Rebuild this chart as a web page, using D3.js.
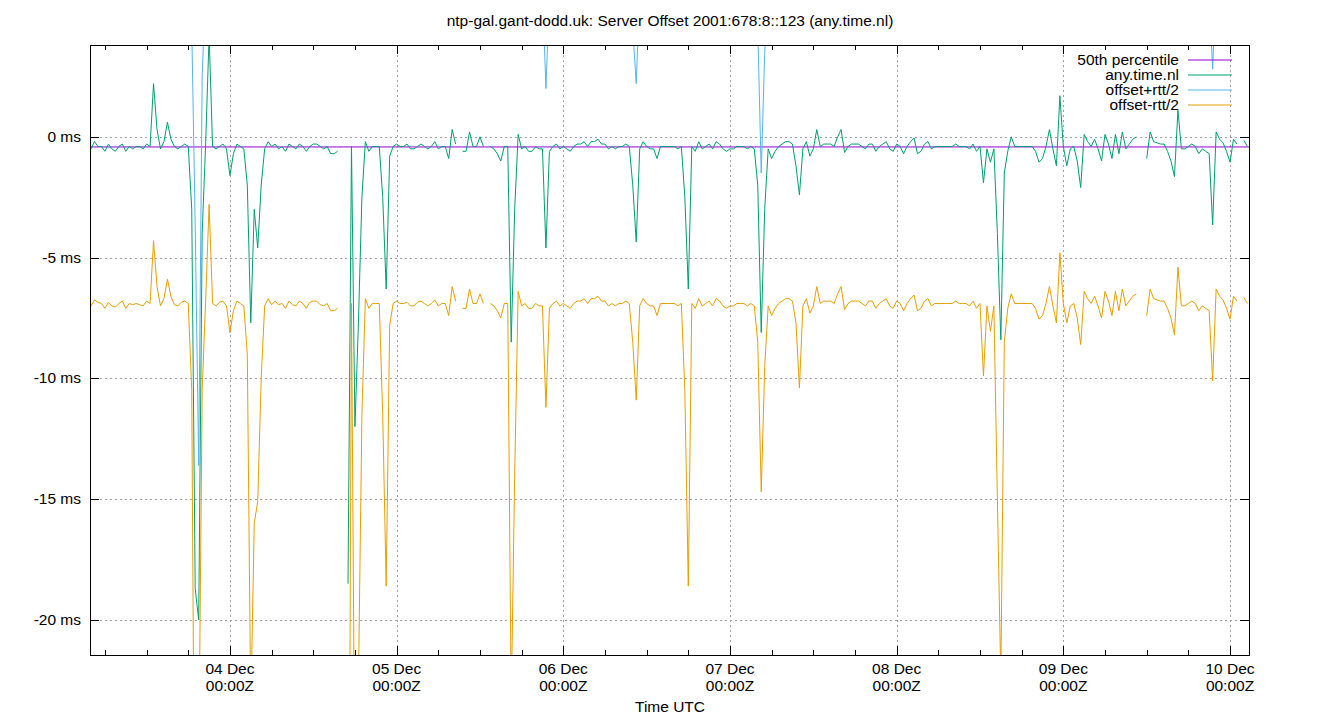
<!DOCTYPE html>
<html>
<head>
<meta charset="utf-8">
<script src="https://cdn.jsdelivr.net/npm/d3@7"></script>
<style>
  body { margin: 0; background: #fff; }
  text { font-family: "Liberation Sans", Arial, sans-serif; font-size: 15.5px; fill: #000; }
</style>
</head>
<body>
<script>
// samples every 30 minutes starting 2023-12-03 04:00Z
const startTime = Date.UTC(2023, 11, 3, 4, 0);
const stepMinutes = 30;

// any.time.nl offset, ms (null = no sample)
const offsets = [
  -0.5,-0.2,-0.4,-0.4,-0.6,-0.3,-0.5,-0.6,-0.4,-0.3,
  -0.6,-0.4,-0.5,-0.4,-0.4,-0.5,-0.3,-0.4,2.2,0.3,
  -0.5,-0.2,0.6,-0.1,-0.4,-0.5,-0.4,-0.3,-0.4,-3.0,
  -18.7,-20.0,-4.0,-0.3,4.2,-0.4,-0.5,-0.4,-0.3,-0.5,
  -1.6,-0.7,-0.3,-0.4,-0.5,-2.0,-7.7,-3.0,-4.6,-2.0,
  -0.5,-0.2,-0.4,-0.3,-0.5,-0.4,-0.6,-0.3,-0.4,-0.5,
  -0.3,-0.4,-0.6,-0.4,-0.3,-0.3,-0.4,-0.5,-0.4,-0.7,
  -0.7,-0.6,null,null,-18.5,-0.4,-12.0,-7.7,-2.5,-0.2,
  -0.6,-0.4,-0.4,-0.4,-2.5,-6.3,-0.8,-0.4,-0.3,-0.4,
  -0.4,-0.3,-0.5,-0.5,-0.4,-0.3,-0.4,-0.5,-0.4,-0.2,
  -0.5,-0.4,-0.4,-0.9,0.3,-0.3,null,-0.6,-0.6,0.2,
  -0.4,-0.4,0.0,-0.4,null,-0.4,-0.5,-0.7,-1.0,-0.4,
  -0.4,-8.5,-3.0,0.1,-0.5,-0.4,-0.6,-0.6,-0.4,-0.5,
  -0.5,-4.6,-0.6,-0.4,-0.3,-0.5,-0.4,-0.5,-0.6,-0.4,
  -0.3,-0.3,-0.2,-0.4,-0.2,-0.2,-0.1,-0.3,-0.3,-0.5,
  -0.4,-0.5,-0.4,-0.4,-0.3,-0.4,-2.0,-4.35,-0.5,-0.2,
  -0.4,-0.5,-0.5,-0.9,-0.4,-0.4,-0.4,-0.4,-0.4,-0.5,
  -0.4,-2.5,-6.3,-0.4,-0.6,-0.2,-0.5,-0.4,-0.3,-0.5,
  -0.2,-0.3,-0.5,-0.6,-0.5,-0.5,-0.4,-0.4,-0.4,-0.5,
  -0.4,-0.5,-2.0,-8.1,-3.0,-0.5,-0.9,-0.6,-0.4,-0.3,
  -0.2,-0.2,-0.3,-1.2,-2.4,-0.5,-0.2,-0.8,-0.5,0.3,
  -0.4,-0.3,-0.3,-0.3,-0.4,0.0,0.3,-0.65,-0.4,-0.3,
  -0.3,-0.3,-0.4,-0.5,-0.3,-0.3,-0.6,-0.4,-0.3,-0.2,
  -0.5,-0.6,-0.3,-0.4,-0.7,-0.4,-0.2,-0.05,-0.7,-0.6,
  -0.3,-0.2,-0.5,-0.4,-0.4,-0.4,-0.4,-0.4,-0.4,-0.3,
  -0.4,-0.4,-0.4,-0.5,-0.3,-0.6,-0.4,-1.9,-0.5,-1.05,
  -0.5,-4.0,-8.4,-1.5,-0.6,0.0,-0.4,-0.4,-0.4,-0.4,
  -0.4,-0.4,-0.6,-1.05,-0.9,-0.4,0.3,-0.5,-1.2,1.7,
  -0.4,-1.2,-0.5,-0.4,-1.0,-2.1,0.1,-0.2,-0.4,-0.1,
  -0.5,-1.0,0.1,-0.3,-0.9,0.1,-0.7,0.2,-0.5,-0.3,
  -0.1,0.0,null,null,-0.9,0.2,-0.2,-0.25,-0.3,-0.3,
  -0.6,-1.0,-1.65,1.1,-0.5,-0.5,-0.4,-0.3,-0.4,-0.7,
  -0.5,-0.6,-0.7,-3.65,0.2,-0.1,-0.25,-0.6,-1.05,-0.1,
  -0.3,null,-0.15,-0.4
];

// round trip time, ms
const rtts = [
  13.0,13.1,12.9,13.0,13.0,13.1,13.0,12.9,13.0,13.0,
  13.0,13.0,12.9,13.0,13.1,13.0,13.0,13.0,13.0,13.0,
  13.0,13.0,13.0,13.0,13.1,13.0,12.9,13.0,13.0,15.0,
  30.0,12.8,13.0,13.0,14.0,13.0,13.0,12.9,13.0,13.0,
  13.0,13.0,13.0,13.0,13.0,14.0,32.0,26.0,21.0,16.0,
  13.0,13.0,13.1,13.0,12.9,13.0,13.0,13.0,13.1,13.0,
  13.0,13.0,13.0,12.9,13.0,13.0,13.1,13.0,13.0,13.0,
  13.0,13.0,13.0,13.0,45.0,13.0,32.0,30.0,18.0,13.0,
  13.0,13.0,13.0,13.0,18.0,24.6,14.0,13.0,13.0,13.0,
  13.0,13.1,13.0,13.0,12.9,13.0,13.0,13.0,13.0,13.1,
  13.0,13.0,13.0,13.0,13.0,13.0,13.0,13.0,13.0,13.0,
  13.0,13.0,13.0,13.0,13.0,13.0,13.0,13.0,13.0,13.0,
  13.0,30.0,22.0,13.0,13.0,13.0,13.0,13.0,13.0,13.0,
  13.0,13.2,13.0,13.0,13.0,13.0,13.0,13.0,13.0,13.0,
  13.0,13.0,13.0,13.0,13.0,13.0,13.0,13.0,13.0,13.0,
  13.0,13.0,13.0,13.0,13.0,13.0,13.0,13.1,13.0,13.0,
  13.0,13.0,13.0,13.0,13.0,13.0,13.0,13.0,13.0,13.0,
  13.0,16.0,24.6,13.0,13.0,13.0,13.0,13.0,13.0,13.0,
  13.0,13.0,13.0,13.0,13.0,13.0,13.0,13.0,13.0,13.0,
  13.0,13.0,13.0,13.2,13.0,13.0,13.0,13.0,13.0,13.0,
  13.0,13.0,13.0,13.0,16.0,13.0,13.0,13.0,13.0,13.0,
  13.0,13.0,13.0,13.0,13.0,13.0,13.0,13.0,13.0,13.0,
  13.0,13.0,13.0,13.0,13.0,13.0,13.0,13.0,13.0,13.0,
  13.0,13.0,13.0,13.0,13.0,13.0,13.0,13.0,13.0,13.0,
  13.0,13.0,13.0,13.0,13.0,13.0,13.0,13.0,13.0,13.0,
  13.0,13.0,13.0,13.0,13.0,13.0,13.0,16.0,13.0,14.0,
  13.0,22.0,28.0,14.0,13.0,13.0,13.0,13.0,13.0,13.0,
  13.0,13.0,13.0,13.0,13.0,13.0,13.0,13.0,13.0,13.0,
  13.0,13.0,13.0,13.0,13.0,13.0,13.0,13.0,13.0,13.0,
  13.0,13.0,13.0,13.0,13.0,13.0,13.0,13.0,13.0,13.0,
  13.0,13.0,13.0,13.0,13.0,13.0,13.0,13.0,13.0,13.0,
  13.0,13.0,13.1,13.0,13.0,13.0,13.0,13.0,13.0,13.0,
  13.0,13.0,13.0,12.9,13.0,13.0,13.0,13.0,13.0,13.0,
  13.0,13.0,13.0,13.0
];

const median = -0.42;
const yTicks = [0, -5, -10, -15, -20];
const dayTicks = [4, 5, 6, 7, 8, 9, 10];
const seriesNames = ['50th percentile', 'any.time.nl', 'offset+rtt/2', 'offset-rtt/2'];
const colors = ['#9400d3', '#009e73', '#56b4e9', '#e69f00'];

const width = 1340;
const height = 720;
const margin = { top: 45, right: 91, bottom: 65, left: 90 };

const data = offsets.map((v, i) => ({
  t: new Date(startTime + i * stepMinutes * 60000),
  v,
  rtt: rtts[i]
}));

const x = d3.scaleUtc()
  .domain([new Date(Date.UTC(2023, 11, 3, 3, 51)), new Date(Date.UTC(2023, 11, 10, 2, 44))])
  .range([margin.left, width - margin.right]);

const y = d3.scaleLinear()
  .domain([-21.45, 3.8])
  .range([height - margin.bottom, margin.top]);

const svg = d3.select('body').append('svg')
  .attr('width', width)
  .attr('height', height);

svg.append('rect').attr('width', width).attr('height', height).attr('fill', '#fff');

svg.append('clipPath').attr('id', 'plot')
  .append('rect')
  .attr('x', margin.left).attr('y', margin.top)
  .attr('width', width - margin.left - margin.right)
  .attr('height', height - margin.top - margin.bottom);

const dayDates = dayTicks.map(d => new Date(Date.UTC(2023, 11, d)));
const sixHours = d3.utcHour.every(6).range(x.domain()[0], x.domain()[1]);

// grid
const grid = svg.append('g')
  .attr('stroke', '#a0a0a0')
  .attr('stroke-dasharray', '2,3')
  .attr('stroke-width', 1);

grid.selectAll('.gx').data(dayDates).join('line')
  .attr('x1', d => Math.round(x(d)) + 0.5).attr('x2', d => Math.round(x(d)) + 0.5)
  .attr('y1', margin.top).attr('y2', height - margin.bottom);

grid.selectAll('.gy').data(yTicks).join('line')
  .attr('x1', margin.left).attr('x2', width - margin.right)
  .attr('y1', d => Math.round(y(d)) + 0.5).attr('y2', d => Math.round(y(d)) + 0.5);

// ticks (inward, on all sides)
const ticks = svg.append('g').attr('stroke', '#000').attr('stroke-width', 1);
sixHours.forEach(d => {
  const major = d.getUTCHours() === 0;
  const len = major ? 9 : 5;
  const px = Math.round(x(d)) + 0.5;
  ticks.append('line').attr('x1', px).attr('x2', px)
    .attr('y1', height - margin.bottom).attr('y2', height - margin.bottom - len);
  ticks.append('line').attr('x1', px).attr('x2', px)
    .attr('y1', margin.top).attr('y2', margin.top + len);
});
yTicks.forEach(d => {
  const py = Math.round(y(d)) + 0.5;
  ticks.append('line').attr('x1', margin.left).attr('x2', margin.left + 9).attr('y1', py).attr('y2', py);
  ticks.append('line').attr('x1', width - margin.right).attr('x2', width - margin.right - 9).attr('y1', py).attr('y2', py);
});

// labels
svg.selectAll('.ylab').data(yTicks).join('text')
  .attr('x', margin.left - 9)
  .attr('y', d => y(d) + 5)
  .attr('text-anchor', 'end')
  .text(d => `${d} ms`);

const fmtDay = d3.utcFormat('%d %b');
const xl = svg.selectAll('.xlab').data(dayDates).join('text')
  .attr('text-anchor', 'middle');
xl.append('tspan').attr('x', d => x(d)).attr('y', 674).text(d => fmtDay(d));
xl.append('tspan').attr('x', d => x(d)).attr('y', 691).text('00:00Z');

svg.append('text').attr('x', 670).attr('y', 712).attr('text-anchor', 'middle').text('Time UTC');
svg.append('text').attr('x', 670).attr('y', 26).attr('text-anchor', 'middle')
  .text('ntp-gal.gant-dodd.uk: Server Offset 2001:678:8::123 (any.time.nl)');

// series
const plot = svg.append('g').attr('clip-path', 'url(#plot)').attr('fill', 'none').attr('stroke-width', 1);

const line = acc => d3.line()
  .defined(d => d.v != null)
  .x(d => x(d.t))
  .y(d => y(acc(d)));

plot.append('line')
  .attr('x1', margin.left).attr('x2', width - margin.right)
  .attr('y1', y(median)).attr('y2', y(median))
  .attr('stroke', colors[0]);

plot.append('path').datum(data).attr('stroke', colors[1]).attr('d', line(d => d.v));
plot.append('path').datum(data).attr('stroke', colors[2]).attr('d', line(d => d.v + d.rtt / 2));
plot.append('path').datum(data).attr('stroke', colors[3]).attr('d', line(d => d.v - d.rtt / 2));

// frame
svg.append('rect')
  .attr('x', margin.left + 0.5).attr('y', margin.top + 0.5)
  .attr('width', width - margin.left - margin.right)
  .attr('height', height - margin.top - margin.bottom)
  .attr('fill', 'none').attr('stroke', '#000');

// legend
const legend = svg.append('g');
seriesNames.forEach((name, i) => {
  const ly = 60 + i * 15;
  legend.append('text').attr('x', 1179).attr('y', ly + 5).attr('text-anchor', 'end').text(name);
  legend.append('line').attr('x1', 1188).attr('x2', 1232).attr('y1', ly).attr('y2', ly)
    .attr('stroke', colors[i]).attr('stroke-width', 1);
});
</script>
</body>
</html>
